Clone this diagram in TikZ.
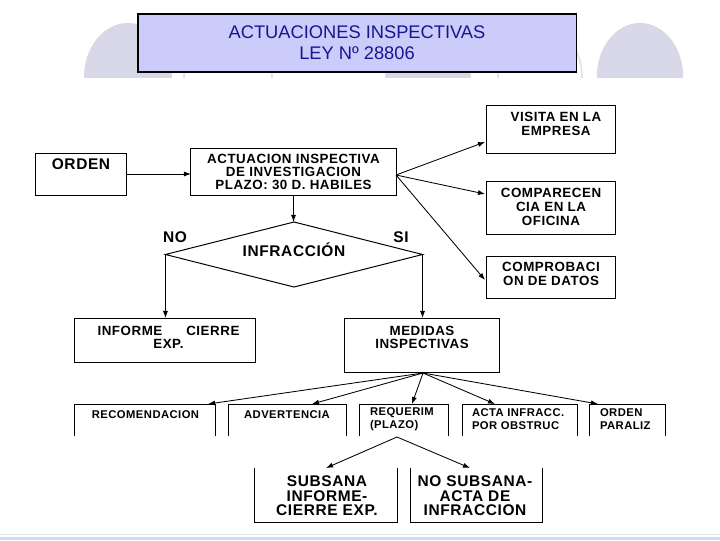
\documentclass[tikz,border=0pt]{standalone}
\usepackage{fontspec}
\setmainfont{Liberation Sans}
\newfontfamily\bfnt[LetterSpace=4]{Liberation Sans}
\usetikzlibrary{shapes.geometric,arrows.meta,calc}
\definecolor{dome}{RGB}{216,216,232}
\definecolor{domeline}{RGB}{226,226,234}
\definecolor{titlefill}{RGB}{204,204,250}
\definecolor{titletext}{RGB}{22,22,145}
\definecolor{strip}{RGB}{208,220,242}
\definecolor{stripline}{RGB}{222,226,234}
\newcommand\fT{\fontsize{13}{15}\selectfont}
\newcommand\fA{\bfnt\bfseries\fontsize{9.5}{9.3}\selectfont}
\newcommand\fAA{\bfnt\bfseries\fontsize{9.5}{10}\selectfont}
\newcommand\fB{\bfnt\bfseries\fontsize{8}{9.2}\selectfont}
\newcommand\fC{\bfnt\bfseries\fontsize{11}{10.4}\selectfont}
\begin{document}
\begin{tikzpicture}[x=0.025cm,y=-0.025cm,
  box/.style={draw, line width=0.7pt, inner sep=0pt, outer sep=0pt},
  ghost/.style={inner sep=0pt, outer sep=0pt},
  tx/.style={inner sep=0pt, outer sep=0pt, align=center, font=\fA},
  arr/.style={line width=0.6pt, -{Latex[length=5pt,width=3.6pt]}},
  open/.style={line width=0.7pt}]
\useasboundingbox (0,0) rectangle (720,540);
\fill[white] (0,0) rectangle (720,540);
% background domes
\begin{scope}
  \clip (0,0) rectangle (720,77);
  \fill[dome] (128,77) ellipse [x radius=1.1cm, y radius=1.35cm];
  \fill[dome] (428,77) ellipse [x radius=1.07cm, y radius=1.35cm];
  \fill[dome] (640,77) ellipse [x radius=1.08cm, y radius=1.35cm];
  \draw[domeline, line width=1.2pt] (228,77) ellipse [x radius=1.1cm, y radius=1.3cm];
  \draw[domeline, line width=1.2pt] (540,77) ellipse [x radius=1.05cm, y radius=1.3cm];
\end{scope}
% bottom strip
\fill[strip] (0,536.5) rectangle (720,540);
\draw[stripline, line width=0.8pt] (0,534.5) -- (720,534.5);
% title
\node[box, line width=0.8pt, fill=titlefill, minimum width=10.95cm, minimum height=1.45cm,
      align=center, text=titletext, font=\fT] (title) at (357,43)
      {ACTUACIONES INSPECTIVAS\\LEY Nº 28806};
% top nodes
\node[box, minimum width=2.25cm, minimum height=1.05cm] (orden) at (81,174) {};
\node[tx, font=\fC] (tord) at ($(orden.north)+(0,11)$) {ORDEN};
\node[box, minimum width=5.125cm, minimum height=1.175cm, align=center, font=\fA] (act) at (293.5,171.5)
      {ACTUACION INSPECTIVA\\DE INVESTIGACION\\PLAZO: 30 D. HABILES};
\node[box, minimum width=3.225cm, minimum height=1.2cm] (vis) at (550.5,129) {};
\node[tx, font=\fAA] (tvis) at (556,124) {VISITA EN LA\\EMPRESA};
\node[box, minimum width=3.225cm, minimum height=1.325cm] (comp) at (550.5,207.5) {};
\node[tx, font=\fAA] (tcomp) at (551,207) {COMPARECEN\\CIA EN LA\\OFICINA};
\node[box, minimum width=3.225cm, minimum height=1.05cm] (compr) at (550.5,277) {};
\node[tx, font=\fAA] (tcompr) at (551,273.5) {COMPROBACI\\ON DE DATOS};
% decision
\node[draw, line width=0.7pt, shape=diamond, inner sep=0pt, outer sep=0pt,
      minimum width=6.425cm, minimum height=1.625cm] (dia) at (294,254.5) {};
\node[tx, font=\fC] (tinf) at (294,250) {INFRACCIÓN};
\node[tx, font=\fC] (tno) at (175,237) {NO};
\node[tx, font=\fC] (tsi) at (401,237) {SI};
% second level
\node[box, minimum width=4.5cm, minimum height=1.1cm] (inf) at (165,340) {};
\node[tx] (tinfo) at (168.5,337) {INFORME\hspace{17pt}CIERRE\\EXP.};
\node[box, minimum width=3.85cm, minimum height=1.35cm] (med) at (422,345) {};
\node[tx] (tmed) at (422,337) {MEDIDAS\\INSPECTIVAS};
% bottom row (open at the bottom)
\node[ghost, minimum width=3.5cm, minimum height=0.8cm] (rec) at (145,420) {};
\node[ghost, minimum width=2.925cm, minimum height=0.8cm] (adv) at (287.5,420) {};
\node[ghost, minimum width=2.225cm, minimum height=0.8cm] (req) at (403.5,420) {};
\node[ghost, minimum width=2.875cm, minimum height=0.8cm] (acta) at (519.5,420) {};
\node[ghost, minimum width=1.9cm, minimum height=0.8cm] (ordp) at (627,420) {};
\foreach \n in {rec,adv,req,acta,ordp}
  \draw[open] (\n.south west) |- (\n.north east) -- (\n.south east);
\node[tx, font=\fB] (trec) at (145.5,415) {RECOMENDACION};
\node[tx, font=\fB] (tadv) at (287,415) {ADVERTENCIA};
\node[tx, font=\fB, align=left, anchor=west] (treq) at (370,419.5) {REQUERIM\\(PLAZO)};
\node[tx, font=\fB, align=left, anchor=west] (tacta) at (472,419.5) {ACTA INFRACC.\\POR OBSTRUC};
\node[tx, font=\fB, align=left, anchor=west] (tordp) at (600,419.5) {ORDEN\\PARALIZ};
% last row (open at the top)
\node[ghost, minimum width=3.55cm, minimum height=1.35cm] (subs) at (326,495) {};
\node[ghost, minimum width=3.3cm, minimum height=1.35cm] (nos) at (476,495) {};
\foreach \n in {subs,nos}
  \draw[open] (\n.north west) |- (\n.south east) -- (\n.north east);
\node[tx, font=\fC] (tsubs) at (327,496) {SUBSANA\\INFORME-\\CIERRE EXP.};
\node[tx, font=\fC] (tnos) at (475,496) {NO SUBSANA-\\ACTA DE\\INFRACCION};
% connectors
\draw[arr] (orden.east) -- (orden.east -| act.west);
\coordinate (fan) at ($(act.east)+(0,3.5)$);
\draw[arr] (fan) -- ($(vis.west)+(-1,13)$);
\draw[arr] (fan) -- ($(comp.west)+(-1,-13.5)$);
\draw[arr] (fan) -- ($(compr.west)+(-1,3)$);
\draw[arr] (act.south) -- (act.south |- dia.north);
\draw[arr] (dia.west) -- (dia.west |- inf.north);
\draw[arr] (dia.east) -- (dia.east |- med.north);
\coordinate (mfan) at ($(med.south)+(1,1)$);
\draw[arr] (mfan) -- ($(rec.north east)+(-7,0)$);
\draw[arr] (mfan) -- ($(adv.north)+(24.5,0)$);
\draw[arr] (mfan) -- ($(req.north)+(8.5,0)$);
\draw[arr] (mfan) -- ($(acta.north)+(-24.5,0)$);
\draw[arr] (mfan) -- ($(ordp.north west)+(9,0)$);
\coordinate (rfan) at ($(req.south)+(-6.5,1)$);
\draw[arr] (rfan) -- (subs.north);
\draw[arr] (rfan) -- ($(nos.north)+(-6,0)$);
\end{tikzpicture}
\end{document}
